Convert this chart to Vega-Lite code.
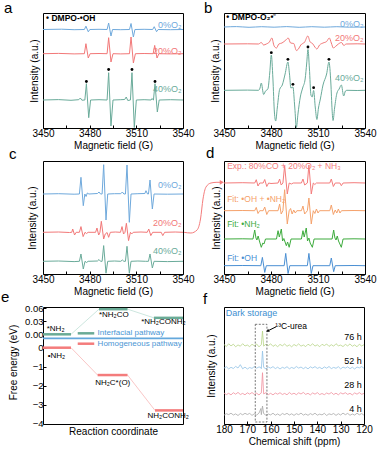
{
"$schema":"https://vega.github.io/schema/vega-lite/v6.json",
"background":"white",
"padding":{"left":0,"top":0,"right":0,"bottom":0},
"config":{
 "font":"Liberation Sans",
 "view":{"stroke":"#000","strokeWidth":1},
 "axis":{"domain":false,"grid":false,"tickColor":"#000","tickSize":-3,"labelColor":"#000","titleColor":"#000","labelFontSize":10,"titleFontSize":10,"titleFontWeight":"normal","labelPadding":3,"titlePadding":2,"labelFlush":false,"labelOverlap":false},
 "title":{"fontSize":15,"fontWeight":"normal","anchor":"start","frame":"group","offset":0,"baseline":"alphabetic","color":"#000"},
 "text":{"font":"Liberation Sans"}
},
"bounds":"flush",
"columns":2,
"spacing":{"row":33,"column":41},
"resolve":{"scale":{"color":"independent","x":"independent","y":"independent"}},
"concat":[
{
 "width":140,"height":115,
 "title":{"text":"a","dx":-39,"dy":7},
 "encoding":{
  "x":{"field":"x","type":"quantitative","scale":{"domain":[3450,3540],"nice":false,"zero":false},"axis":{"values":[3450,3465,3480,3495,3510,3525,3540],"labelExpr":"datum.value % 30 == 0 ? datum.label : ''","format":"d","title":"Magnetic field (G)"}},
  "y":{"field":"y","type":"quantitative","scale":{"domain":[0,115],"nice":false,"zero":false},"axis":{"labels":false,"ticks":false,"title":"Intensity (a.u.)","titlePadding":4}}
 },
 "layer":[
  {"data":{"values":[
{"s":"a0","x":3450,"y":98.5},{"s":"a0","x":3462,"y":98.8},{"s":"a0","x":3470,"y":98.3},{"s":"a0","x":3476.6,"y":98.5},{"s":"a0","x":3477.6,"y":101.8},{"s":"a0","x":3479.1,"y":96.2},{"s":"a0","x":3480.1,"y":98.5},{"s":"a0","x":3486,"y":98.7},{"s":"a0","x":3491.2,"y":98.5},{"s":"a0","x":3492.2,"y":105},{"s":"a0","x":3493.7,"y":92},{"s":"a0","x":3494.7,"y":98.5},{"s":"a0","x":3500,"y":98.3},{"s":"a0","x":3505.6,"y":98.5},{"s":"a0","x":3506.6,"y":104.5},{"s":"a0","x":3508.1,"y":91},{"s":"a0","x":3509.1,"y":98.5},{"s":"a0","x":3515,"y":98.7},{"s":"a0","x":3520.5,"y":98.5},{"s":"a0","x":3521.5,"y":101.3},{"s":"a0","x":3523,"y":96.3},{"s":"a0","x":3524,"y":98.5},{"s":"a0","x":3532,"y":98.3},{"s":"a0","x":3540,"y":98.5},
{"s":"a20","x":3450,"y":74.3},{"s":"a20","x":3460,"y":74.6},{"s":"a20","x":3470,"y":74.1},{"s":"a20","x":3476.6,"y":74.3},{"s":"a20","x":3477.6,"y":84.3},{"s":"a20","x":3479.1,"y":70},{"s":"a20","x":3480.3,"y":74.3},{"s":"a20","x":3486,"y":74.5},{"s":"a20","x":3491.2,"y":74.3},{"s":"a20","x":3492.2,"y":90.3},{"s":"a20","x":3493.7,"y":66},{"s":"a20","x":3495,"y":74.3},{"s":"a20","x":3500,"y":74.1},{"s":"a20","x":3505.6,"y":74.3},{"s":"a20","x":3506.6,"y":91},{"s":"a20","x":3508.1,"y":65},{"s":"a20","x":3509.4,"y":74.3},{"s":"a20","x":3515,"y":74.5},{"s":"a20","x":3520.8,"y":74.3},{"s":"a20","x":3521.8,"y":82.6},{"s":"a20","x":3523.3,"y":70},{"s":"a20","x":3524.5,"y":74.3},{"s":"a20","x":3532,"y":74.1},{"s":"a20","x":3540,"y":74.3},
{"s":"a40","x":3450,"y":28},{"s":"a40","x":3460,"y":28.4},{"s":"a40","x":3468,"y":27.7},{"s":"a40","x":3473,"y":28.3},{"s":"a40","x":3474,"y":30},{"s":"a40","x":3475,"y":27.8},{"s":"a40","x":3476.9,"y":28},{"s":"a40","x":3477.9,"y":44.3},{"s":"a40","x":3479.4,"y":10.3},{"s":"a40","x":3480.6,"y":28},{"s":"a40","x":3486,"y":28.3},{"s":"a40","x":3491.2,"y":28},{"s":"a40","x":3492.2,"y":55.3},{"s":"a40","x":3493.7,"y":2},{"s":"a40","x":3495,"y":28},{"s":"a40","x":3500,"y":28.3},{"s":"a40","x":3502.5,"y":28.5},{"s":"a40","x":3503.5,"y":31},{"s":"a40","x":3504.5,"y":27.5},{"s":"a40","x":3506.2,"y":28},{"s":"a40","x":3507.2,"y":55.3},{"s":"a40","x":3508.7,"y":0.5},{"s":"a40","x":3510,"y":28},{"s":"a40","x":3515,"y":28.3},{"s":"a40","x":3519.5,"y":28},{"s":"a40","x":3520,"y":29.5},{"s":"a40","x":3521,"y":28},{"s":"a40","x":3522,"y":44.3},{"s":"a40","x":3523.5,"y":16},{"s":"a40","x":3524.7,"y":28},{"s":"a40","x":3532,"y":28.3},{"s":"a40","x":3540,"y":28}
  ]},"mark":{"type":"line","strokeWidth":1},"encoding":{"color":{"field":"s","type":"nominal","scale":{"domain":["a0","a20","a40"],"range":["#6fa9dc","#f27878","#6aab9a"]},"legend":null}}},
  {"data":{"values":[{"x":3477.9,"y":46.5},{"x":3492.2,"y":58.5},{"x":3507.2,"y":58.5},{"x":3522,"y":46.5}]},"mark":{"type":"point","filled":true,"color":"#000","size":8,"opacity":1}},
  {"data":{"values":[{"s":"a0","t":"0%O₂","x":3539,"y":103},{"s":"a20","t":"20%O₂","x":3539,"y":77},{"s":"a40","t":"40%O₂","x":3539,"y":38.7}]},"mark":{"type":"text","align":"right","baseline":"middle","fontSize":9},"encoding":{"text":{"field":"t"},"color":{"field":"s","type":"nominal","scale":{"domain":["a0","a20","a40"],"range":["#6fa9dc","#f27878","#6aab9a"]},"legend":null}}},
  {"data":{"values":[{"t":"• DMPO-•OH","x":3452,"y":110}]},"mark":{"type":"text","align":"left","baseline":"middle","fontSize":8.5,"fontWeight":"bold","color":"#000"},"encoding":{"text":{"field":"t"}}}
 ]
},
{
 "width":141,"height":115,
 "title":{"text":"b","dx":-20,"dy":7},
 "encoding":{
  "x":{"field":"x","type":"quantitative","scale":{"domain":[3450,3540],"nice":false,"zero":false},"axis":{"values":[3450,3465,3480,3495,3510,3525,3540],"labelExpr":"datum.value % 30 == 0 ? datum.label : ''","format":"d","title":"Magnetic field (G)"}},
  "y":{"field":"y","type":"quantitative","scale":{"domain":[0,115],"nice":false,"zero":false},"axis":{"labels":false,"ticks":false,"title":"Intensity (a.u.)","titlePadding":4}}
 },
 "layer":[
  {"data":{"values":[
{"s":"b0","x":3450,"y":101},{"s":"b0","x":3458,"y":101.4},{"s":"b0","x":3466,"y":100.7},{"s":"b0","x":3474,"y":101.3},{"s":"b0","x":3482,"y":100.8},{"s":"b0","x":3490,"y":101.4},{"s":"b0","x":3498,"y":100.7},{"s":"b0","x":3506,"y":101.3},{"s":"b0","x":3514,"y":100.8},{"s":"b0","x":3522,"y":101.3},{"s":"b0","x":3530,"y":100.8},{"s":"b0","x":3540,"y":101},
{"s":"b20","x":3450,"y":84},{"s":"b20","x":3465,"y":84.2},{"s":"b20","x":3472,"y":84},{"s":"b20","x":3473.8,"y":85.5},{"s":"b20","x":3475.3,"y":83},{"s":"b20","x":3477,"y":84},{"s":"b20","x":3479,"y":86},{"s":"b20","x":3480.5,"y":90},{"s":"b20","x":3482,"y":82},{"s":"b20","x":3483.5,"y":80},{"s":"b20","x":3485,"y":84},{"s":"b20","x":3487,"y":85},{"s":"b20","x":3489.5,"y":88},{"s":"b20","x":3491,"y":90},{"s":"b20","x":3492.5,"y":85},{"s":"b20","x":3494.5,"y":84.5},{"s":"b20","x":3496.2,"y":77.5},{"s":"b20","x":3497.5,"y":79},{"s":"b20","x":3499,"y":83},{"s":"b20","x":3501.5,"y":86},{"s":"b20","x":3503.5,"y":92},{"s":"b20","x":3505,"y":86},{"s":"b20","x":3506.5,"y":84.5},{"s":"b20","x":3508,"y":81},{"s":"b20","x":3509.3,"y":79},{"s":"b20","x":3511,"y":83},{"s":"b20","x":3513.2,"y":85},{"s":"b20","x":3515.5,"y":86.5},{"s":"b20","x":3517.2,"y":90},{"s":"b20","x":3518.5,"y":85},{"s":"b20","x":3519.8,"y":80},{"s":"b20","x":3521.5,"y":82},{"s":"b20","x":3523,"y":84},{"s":"b20","x":3525,"y":85.5},{"s":"b20","x":3526.5,"y":82.5},{"s":"b20","x":3528,"y":84},{"s":"b20","x":3535,"y":84.2},{"s":"b20","x":3540,"y":84},
{"s":"b40","x":3450,"y":37.7},{"s":"b40","x":3465,"y":37.9},{"s":"b40","x":3472,"y":37.7},{"s":"b40","x":3473,"y":40},{"s":"b40","x":3473.8,"y":45},{"s":"b40","x":3475.3,"y":33.5},{"s":"b40","x":3476.5,"y":37},{"s":"b40","x":3478,"y":39},{"s":"b40","x":3479.2,"y":55},{"s":"b40","x":3480.2,"y":73},{"s":"b40","x":3481.2,"y":50},{"s":"b40","x":3482.2,"y":15},{"s":"b40","x":3483,"y":7},{"s":"b40","x":3484,"y":20},{"s":"b40","x":3485.5,"y":38.5},{"s":"b40","x":3487.2,"y":43},{"s":"b40","x":3489,"y":54},{"s":"b40","x":3490.8,"y":66},{"s":"b40","x":3491.8,"y":54},{"s":"b40","x":3492.7,"y":40},{"s":"b40","x":3494,"y":41},{"s":"b40","x":3495.2,"y":20},{"s":"b40","x":3496.2,"y":0.5},{"s":"b40","x":3497.2,"y":14},{"s":"b40","x":3498.7,"y":31},{"s":"b40","x":3500.2,"y":40},{"s":"b40","x":3501.8,"y":49},{"s":"b40","x":3502.8,"y":65},{"s":"b40","x":3503.6,"y":78.5},{"s":"b40","x":3504.5,"y":60},{"s":"b40","x":3505.5,"y":33},{"s":"b40","x":3506.3,"y":31},{"s":"b40","x":3507.2,"y":37.5},{"s":"b40","x":3508.3,"y":20},{"s":"b40","x":3509.3,"y":8.5},{"s":"b40","x":3510.3,"y":20},{"s":"b40","x":3511.5,"y":29},{"s":"b40","x":3513.2,"y":43},{"s":"b40","x":3515.5,"y":54},{"s":"b40","x":3517,"y":66},{"s":"b40","x":3518.2,"y":45},{"s":"b40","x":3519,"y":18},{"s":"b40","x":3519.6,"y":7.5},{"s":"b40","x":3520.6,"y":20},{"s":"b40","x":3522.1,"y":35},{"s":"b40","x":3523.5,"y":39},{"s":"b40","x":3524.9,"y":43},{"s":"b40","x":3526.4,"y":32},{"s":"b40","x":3527.5,"y":37},{"s":"b40","x":3528.5,"y":37.7},{"s":"b40","x":3535,"y":37.5},{"s":"b40","x":3540,"y":37.7}
  ]},"mark":{"type":"line","strokeWidth":1,"interpolate":"monotone"},"encoding":{"color":{"field":"s","type":"nominal","scale":{"domain":["b0","b20","b40"],"range":["#6fa9dc","#f27878","#6aab9a"]},"legend":null}}},
  {"data":{"values":[{"x":3480.2,"y":75.3},{"x":3490.8,"y":68.7},{"x":3494,"y":43.7},{"x":3503.6,"y":81},{"x":3507.2,"y":40.3},{"x":3517,"y":68.7}]},"mark":{"type":"point","filled":true,"color":"#000","size":8,"opacity":1}},
  {"data":{"values":[{"s":"b0","t":"0%O₂","x":3539,"y":104.3},{"s":"b20","t":"20%O₂","x":3539,"y":89.7},{"s":"b40","t":"40%O₂","x":3539,"y":49.7}]},"mark":{"type":"text","align":"right","baseline":"middle","fontSize":9},"encoding":{"text":{"field":"t"},"color":{"field":"s","type":"nominal","scale":{"domain":["b0","b20","b40"],"range":["#6fa9dc","#f27878","#6aab9a"]},"legend":null}}},
  {"data":{"values":[{"t":"• DMPO-O₂•⁻","x":3451.5,"y":111}]},"mark":{"type":"text","align":"left","baseline":"middle","fontSize":8.5,"fontWeight":"bold","color":"#000"},"encoding":{"text":{"field":"t"}}}
 ]
},
{
 "width":140,"height":113,
 "title":{"text":"c","dx":-34,"dy":5},
 "encoding":{
  "x":{"field":"x","type":"quantitative","scale":{"domain":[3450,3540],"nice":false,"zero":false},"axis":{"values":[3450,3465,3480,3495,3510,3525,3540],"labelExpr":"datum.value % 30 == 0 ? datum.label : ''","format":"d","title":"Magnetic field (G)"}},
  "y":{"field":"y","type":"quantitative","scale":{"domain":[0,113],"nice":false,"zero":false},"axis":{"labels":false,"ticks":false,"title":"Intensity (a.u.)","titlePadding":6}}
 },
 "layer":[
  {"data":{"values":[
{"s":"c0","x":3450,"y":80},{"s":"c0","x":3460,"y":80.3},{"s":"c0","x":3470,"y":79.8},{"s":"c0","x":3473.4,"y":80},{"s":"c0","x":3474.4,"y":96.7},{"s":"c0","x":3475.9,"y":68.3},{"s":"c0","x":3476.9,"y":80},{"s":"c0","x":3477.7,"y":77.5},{"s":"c0","x":3478.5,"y":81},{"s":"c0","x":3479.5,"y":80},{"s":"c0","x":3485,"y":80.5},{"s":"c0","x":3486,"y":82},{"s":"c0","x":3487,"y":80},{"s":"c0","x":3488,"y":80},{"s":"c0","x":3489,"y":109.3},{"s":"c0","x":3490.5,"y":54},{"s":"c0","x":3491.6,"y":80},{"s":"c0","x":3496,"y":80.3},{"s":"c0","x":3500,"y":80.3},{"s":"c0","x":3501,"y":82},{"s":"c0","x":3502,"y":80},{"s":"c0","x":3503,"y":80},{"s":"c0","x":3504,"y":109},{"s":"c0","x":3505.5,"y":51.7},{"s":"c0","x":3506.6,"y":80},{"s":"c0","x":3511,"y":80.3},{"s":"c0","x":3515.5,"y":80.5},{"s":"c0","x":3516.2,"y":83.3},{"s":"c0","x":3517.2,"y":80},{"s":"c0","x":3517.8,"y":80},{"s":"c0","x":3518.8,"y":94},{"s":"c0","x":3520.3,"y":65},{"s":"c0","x":3521.4,"y":80},{"s":"c0","x":3530,"y":79.8},{"s":"c0","x":3540,"y":80},
{"s":"c20","x":3450,"y":41.7},{"s":"c20","x":3460,"y":42},{"s":"c20","x":3467,"y":41.5},{"s":"c20","x":3468.5,"y":41.7},{"s":"c20","x":3469.1,"y":45},{"s":"c20","x":3470.3,"y":39},{"s":"c20","x":3471.3,"y":41.7},{"s":"c20","x":3473.4,"y":41.7},{"s":"c20","x":3474.4,"y":47.4},{"s":"c20","x":3475.8,"y":37.4},{"s":"c20","x":3477,"y":41.7},{"s":"c20","x":3478,"y":40.5},{"s":"c20","x":3479,"y":41.7},{"s":"c20","x":3483.8,"y":41.7},{"s":"c20","x":3484.7,"y":46},{"s":"c20","x":3485.8,"y":39},{"s":"c20","x":3486.6,"y":41.7},{"s":"c20","x":3487.5,"y":52.7},{"s":"c20","x":3489,"y":35},{"s":"c20","x":3490,"y":40},{"s":"c20","x":3491.2,"y":41.5},{"s":"c20","x":3492.2,"y":36.7},{"s":"c20","x":3493.3,"y":41.7},{"s":"c20","x":3496.5,"y":42},{"s":"c20","x":3499.8,"y":41.7},{"s":"c20","x":3500.8,"y":47.4},{"s":"c20","x":3501.8,"y":40},{"s":"c20","x":3502.7,"y":41.7},{"s":"c20","x":3503.6,"y":50.7},{"s":"c20","x":3505,"y":33.4},{"s":"c20","x":3506.2,"y":41.7},{"s":"c20","x":3507,"y":40},{"s":"c20","x":3508,"y":41.7},{"s":"c20","x":3513,"y":42},{"s":"c20","x":3517,"y":41.7},{"s":"c20","x":3518,"y":45},{"s":"c20","x":3519.3,"y":38.4},{"s":"c20","x":3520.5,"y":41.7},{"s":"c20","x":3526,"y":41.7},{"s":"c20","x":3527,"y":38.4},{"s":"c20","x":3528.2,"y":41.7},{"s":"c20","x":3535,"y":42},{"s":"c20","x":3540,"y":41.7},
{"s":"c40","x":3450,"y":12.7},{"s":"c40","x":3460,"y":13},{"s":"c40","x":3470,"y":12.4},{"s":"c40","x":3473.4,"y":12.7},{"s":"c40","x":3474.4,"y":20},{"s":"c40","x":3475.9,"y":5},{"s":"c40","x":3477,"y":12.7},{"s":"c40","x":3478,"y":11.5},{"s":"c40","x":3479,"y":12.7},{"s":"c40","x":3485,"y":13},{"s":"c40","x":3486,"y":14.5},{"s":"c40","x":3487,"y":12.7},{"s":"c40","x":3488,"y":12.7},{"s":"c40","x":3489,"y":28.4},{"s":"c40","x":3490.5,"y":0.8},{"s":"c40","x":3491.6,"y":12.7},{"s":"c40","x":3496,"y":13},{"s":"c40","x":3500,"y":12.7},{"s":"c40","x":3501,"y":14},{"s":"c40","x":3502,"y":12.7},{"s":"c40","x":3503,"y":12.7},{"s":"c40","x":3504,"y":27.7},{"s":"c40","x":3505.5,"y":0.8},{"s":"c40","x":3506.6,"y":12.7},{"s":"c40","x":3511,"y":13},{"s":"c40","x":3516,"y":12.7},{"s":"c40","x":3517.8,"y":12.7},{"s":"c40","x":3518.8,"y":20},{"s":"c40","x":3520.3,"y":6},{"s":"c40","x":3521.4,"y":12.7},{"s":"c40","x":3530,"y":12.4},{"s":"c40","x":3540,"y":12.7}
  ]},"mark":{"type":"line","strokeWidth":1},"encoding":{"color":{"field":"s","type":"nominal","scale":{"domain":["c0","c20","c40"],"range":["#6fa9dc","#f27878","#6aab9a"]},"legend":null}}},
  {"data":{"values":[{"s":"c0","t":"0%O₂","x":3539,"y":89.3},{"s":"c20","t":"20%O₂","x":3539,"y":51},{"s":"c40","t":"40%O₂","x":3539,"y":23.3}]},"mark":{"type":"text","align":"right","baseline":"middle","fontSize":9},"encoding":{"text":{"field":"t"},"color":{"field":"s","type":"nominal","scale":{"domain":["c0","c20","c40"],"range":["#6fa9dc","#f27878","#6aab9a"]},"legend":null}}}
 ]
},
{
 "width":141,"height":113,
 "title":{"text":"d","dx":-18,"dy":4},
 "encoding":{
  "x":{"field":"x","type":"quantitative","scale":{"domain":[3450,3540],"nice":false,"zero":false},"axis":{"values":[3450,3465,3480,3495,3510,3525,3540],"labelExpr":"datum.value % 30 == 0 ? datum.label : ''","format":"d","title":"Magnetic field (G)"}},
  "y":{"field":"y","type":"quantitative","scale":{"domain":[0,113],"nice":false,"zero":false},"axis":{"labels":false,"ticks":false,"title":"Intensity (a.u.)","titlePadding":3}}
 },
 "layer":[
  {"data":{"values":[
{"s":"dE","x":3450,"y":91},{"s":"dE","x":3462,"y":91.3},{"s":"dE","x":3469.6,"y":91},{"s":"dE","x":3470.6,"y":94.3},{"s":"dE","x":3471.7,"y":88},{"s":"dE","x":3472.8,"y":91},{"s":"dE","x":3475,"y":91},{"s":"dE","x":3476,"y":94.5},{"s":"dE","x":3477.3,"y":87.5},{"s":"dE","x":3478.5,"y":91},{"s":"dE","x":3480,"y":90.5},{"s":"dE","x":3484.5,"y":91},{"s":"dE","x":3485.5,"y":95},{"s":"dE","x":3486.5,"y":89},{"s":"dE","x":3487.6,"y":91},{"s":"dE","x":3488.7,"y":108.3},{"s":"dE","x":3490.4,"y":80},{"s":"dE","x":3491.6,"y":91},{"s":"dE","x":3493,"y":90},{"s":"dE","x":3494.2,"y":91},{"s":"dE","x":3499.4,"y":91},{"s":"dE","x":3500.4,"y":95},{"s":"dE","x":3501.5,"y":89},{"s":"dE","x":3503.2,"y":91},{"s":"dE","x":3504.2,"y":109},{"s":"dE","x":3505.7,"y":80},{"s":"dE","x":3507,"y":91},{"s":"dE","x":3508,"y":89.5},{"s":"dE","x":3509,"y":91},{"s":"dE","x":3517.5,"y":91},{"s":"dE","x":3518.5,"y":95},{"s":"dE","x":3519.8,"y":87.5},{"s":"dE","x":3521,"y":91},{"s":"dE","x":3524,"y":91},{"s":"dE","x":3524.9,"y":88.3},{"s":"dE","x":3526,"y":91},{"s":"dE","x":3533,"y":91.3},{"s":"dE","x":3540,"y":91},
{"s":"dF","x":3450,"y":63.3},{"s":"dF","x":3462,"y":63.5},{"s":"dF","x":3469.6,"y":63.3},{"s":"dF","x":3470.6,"y":66.6},{"s":"dF","x":3471.7,"y":60.5},{"s":"dF","x":3472.8,"y":63.3},{"s":"dF","x":3475,"y":63.3},{"s":"dF","x":3476,"y":67},{"s":"dF","x":3477.3,"y":59.5},{"s":"dF","x":3478.5,"y":63.3},{"s":"dF","x":3484.5,"y":63.3},{"s":"dF","x":3485.5,"y":70},{"s":"dF","x":3486.5,"y":60},{"s":"dF","x":3487.6,"y":63.3},{"s":"dF","x":3488.7,"y":84.3},{"s":"dF","x":3490.4,"y":50},{"s":"dF","x":3491.6,"y":63.3},{"s":"dF","x":3492.5,"y":65.5},{"s":"dF","x":3493.5,"y":60},{"s":"dF","x":3494.5,"y":64},{"s":"dF","x":3495.5,"y":61},{"s":"dF","x":3496.5,"y":63.3},{"s":"dF","x":3499.4,"y":63.3},{"s":"dF","x":3500.4,"y":68},{"s":"dF","x":3501.5,"y":60},{"s":"dF","x":3503.2,"y":63.3},{"s":"dF","x":3504.2,"y":76},{"s":"dF","x":3505.7,"y":50},{"s":"dF","x":3507,"y":63.3},{"s":"dF","x":3508,"y":60.5},{"s":"dF","x":3509,"y":65},{"s":"dF","x":3510,"y":61},{"s":"dF","x":3511,"y":63.3},{"s":"dF","x":3517.5,"y":63.3},{"s":"dF","x":3518.5,"y":69},{"s":"dF","x":3519.8,"y":59.5},{"s":"dF","x":3521,"y":64},{"s":"dF","x":3522,"y":61},{"s":"dF","x":3523,"y":65},{"s":"dF","x":3524,"y":61},{"s":"dF","x":3525,"y":63.3},{"s":"dF","x":3533,"y":63.5},{"s":"dF","x":3540,"y":63.3},
{"s":"dN","x":3450,"y":35},{"s":"dN","x":3462,"y":35.2},{"s":"dN","x":3468.5,"y":35},{"s":"dN","x":3469.6,"y":44},{"s":"dN","x":3470.4,"y":36},{"s":"dN","x":3471,"y":34},{"s":"dN","x":3471.8,"y":38},{"s":"dN","x":3472.6,"y":33},{"s":"dN","x":3473.8,"y":26.7},{"s":"dN","x":3474.8,"y":31},{"s":"dN","x":3475.5,"y":30},{"s":"dN","x":3476.5,"y":35},{"s":"dN","x":3483.5,"y":35},{"s":"dN","x":3484.5,"y":43.3},{"s":"dN","x":3485.3,"y":37},{"s":"dN","x":3486.6,"y":45},{"s":"dN","x":3487.4,"y":33},{"s":"dN","x":3488.2,"y":35.5},{"s":"dN","x":3489.8,"y":28.3},{"s":"dN","x":3490.6,"y":32},{"s":"dN","x":3491.6,"y":26.7},{"s":"dN","x":3492.8,"y":35},{"s":"dN","x":3499.4,"y":35},{"s":"dN","x":3500.4,"y":43.3},{"s":"dN","x":3501.2,"y":37},{"s":"dN","x":3502.5,"y":46},{"s":"dN","x":3503.3,"y":33},{"s":"dN","x":3504.2,"y":36},{"s":"dN","x":3505,"y":31},{"s":"dN","x":3506.4,"y":26.7},{"s":"dN","x":3507.5,"y":35},{"s":"dN","x":3519,"y":35},{"s":"dN","x":3520,"y":44},{"s":"dN","x":3520.8,"y":36},{"s":"dN","x":3521.5,"y":34},{"s":"dN","x":3522.3,"y":38},{"s":"dN","x":3523.1,"y":33},{"s":"dN","x":3524.9,"y":26.7},{"s":"dN","x":3526,"y":35},{"s":"dN","x":3533,"y":35.2},{"s":"dN","x":3540,"y":35},
{"s":"dO","x":3450,"y":8.3},{"s":"dO","x":3462,"y":8.5},{"s":"dO","x":3473.5,"y":8.3},{"s":"dO","x":3474.5,"y":16.6},{"s":"dO","x":3476,"y":1.6},{"s":"dO","x":3477,"y":8.3},{"s":"dO","x":3488.4,"y":8.3},{"s":"dO","x":3489.4,"y":20.6},{"s":"dO","x":3490.9,"y":0.5},{"s":"dO","x":3492,"y":8.3},{"s":"dO","x":3503.2,"y":8.3},{"s":"dO","x":3504.2,"y":20.6},{"s":"dO","x":3505.7,"y":0.5},{"s":"dO","x":3506.8,"y":8.3},{"s":"dO","x":3517.5,"y":8.3},{"s":"dO","x":3518.5,"y":16},{"s":"dO","x":3520,"y":2.3},{"s":"dO","x":3521,"y":8.3},{"s":"dO","x":3533,"y":8.5},{"s":"dO","x":3540,"y":8.3}
  ]},"mark":{"type":"line","strokeWidth":1},"encoding":{"color":{"field":"s","type":"nominal","scale":{"domain":["dE","dF","dN","dO"],"range":["#f47c7c","#f5a26c","#3dab3d","#4a8fd3"]},"legend":null}}},
  {"data":{"values":[{"x":3424.5,"y":41.7},{"x":3428.9,"y":41},{"x":3432.8,"y":44},{"x":3435,"y":55},{"x":3436.6,"y":75},{"x":3438.5,"y":87},{"x":3441.7,"y":91},{"x":3445.5,"y":91.7},{"x":3448.1,"y":91.7}]},"mark":{"type":"line","strokeWidth":1,"color":"#f47c7c","interpolate":"monotone"}},
  {"data":{"values":[{"x":3448.6,"y":91.7}]},"mark":{"type":"point","shape":"triangle-right","filled":true,"size":22,"color":"#f47c7c","opacity":1}},
  {"data":{"values":[{"s":"dE","t":"Exp.: 80%CO + 20%O₂ + NH₃","x":3452,"y":108},{"s":"dF","t":"Fit: •OH + •NH₂","x":3452,"y":75.5},{"s":"dN","t":"Fit: •NH₂","x":3452,"y":50.5},{"s":"dO","t":"Fit: •OH","x":3452,"y":16}]},"mark":{"type":"text","align":"left","baseline":"middle","fontSize":8.5},"encoding":{"text":{"field":"t"},"color":{"field":"s","type":"nominal","scale":{"domain":["dE","dF","dN","dO"],"range":["#f47c7c","#f5a26c","#3dab3d","#4a8fd3"]},"legend":null}}}
 ]
},
{
 "width":140,"height":117,
 "title":{"text":"e","dx":-42,"dy":6},
 "encoding":{
  "x":{"field":"x","type":"quantitative","scale":{"domain":[0,5],"nice":false,"zero":false},"axis":{"labels":false,"ticks":false,"title":"Reaction coordinate","titlePadding":2}}
 },
 "resolve":{"scale":{"y":"independent"},"axis":{"y":"independent"}},
 "layer":[
  {
   "encoding":{"y":{"field":"y","type":"quantitative","scale":{"domain":[-0.0085,0.063],"range":[31,0],"nice":false,"zero":false},"axis":{"orient":"left","values":[0,0.03,0.06],"format":".2f","title":null,"labelFontSize":9.5}}},
   "layer":[
    {"data":{"values":[{"x":1,"x2":2,"y":0,"y2":0.058},{"x":3.02,"x2":3.96,"y":0.058,"y2":0.038}]},"mark":{"type":"rule","color":"#bfe0d5","strokeWidth":0.8},"encoding":{"x2":{"field":"x2"},"y2":{"field":"y2"}}},
    {"data":{"values":[{"x":0,"x2":1,"y":0},{"x":2,"x2":3.02,"y":0.058},{"x":3.96,"x2":5,"y":0.038},{"x":1.24,"x2":1.83,"y":0.0023}]},"mark":{"type":"rule","color":"#6aab96","strokeWidth":2.5},"encoding":{"x2":{"field":"x2"}}},
    {"data":{"values":[{"t":"*NH₂","x":0.45,"y":0.013},{"t":"*NH₂CO","x":2.53,"y":0.0445},{"t":"*NH₂CONH₂","x":4.3,"y":0.028}]},"mark":{"type":"text","fontSize":8,"color":"#000","baseline":"middle"},"encoding":{"text":{"field":"t"}}},
    {"data":{"values":[{"t":"Interfacial pathway","x":1.95,"y":0.0023}]},"mark":{"type":"text","fontSize":8,"color":"#4a96d4","align":"left","baseline":"middle"},"encoding":{"text":{"field":"t"}}}
   ]
  },
  {
   "encoding":{"y":{"field":"y","type":"quantitative","scale":{"domain":[-4.016,0.51],"range":[117,31],"nice":false,"zero":false},"axis":{"orient":"left","values":[-4,-3,-2,-1,0],"format":"d","title":"Free energy (eV)","titleX":-25,"titleY":55,"labelFontSize":9.5}}},
   "layer":[
    {"data":{"values":[{"x":0,"x2":5,"y":0.49}]},"mark":{"type":"rule","color":"#64a8dc","strokeWidth":1.6},"encoding":{"x2":{"field":"x2"}}},
    {"data":{"values":[{"x":1,"x2":1.95,"y":0,"y2":-1.44},{"x":3.02,"x2":4,"y":-1.44,"y2":-3.3}]},"mark":{"type":"rule","color":"#f7b8b8","strokeWidth":0.8},"encoding":{"x2":{"field":"x2"},"y2":{"field":"y2"}}},
    {"data":{"values":[{"x":0,"x2":1,"y":0},{"x":1.95,"x2":3.02,"y":-1.44},{"x":4,"x2":5,"y":-3.3},{"x":1.24,"x2":1.83,"y":0.21}]},"mark":{"type":"rule","color":"#f47c7c","strokeWidth":2.5},"encoding":{"x2":{"field":"x2"}}},
    {"data":{"values":[{"t":"•NH₂","x":0.48,"y":-0.44},{"t":"NH₂C*(O)","x":2.49,"y":-1.84},{"t":"NH₂CONH₂","x":4.47,"y":-3.6}]},"mark":{"type":"text","fontSize":8,"color":"#000","baseline":"middle"},"encoding":{"text":{"field":"t"}}},
    {"data":{"values":[{"t":"Homogeneous pathway","x":1.95,"y":0.21}]},"mark":{"type":"text","fontSize":8,"color":"#4a96d4","align":"left","baseline":"middle"},"encoding":{"text":{"field":"t"}}}
   ]
  }
 ]
},
{
 "width":140,"height":117,
 "title":{"text":"f","dx":-21,"dy":4},
 "encoding":{
  "x":{"field":"x","type":"quantitative","scale":{"domain":[180,120],"nice":false,"zero":false},"axis":{"values":[180,170,160,150,140,130,120],"format":"d","title":"Chemical shift (ppm)"}},
  "y":{"field":"y","type":"quantitative","scale":{"domain":[0,117],"nice":false,"zero":false},"axis":{"labels":false,"ticks":false,"title":"Intensity (a.u.)","titlePadding":8}}
 },
 "layer":[
  {"data":{"values":[
{"x":180,"h76":79.5,"h52":55.8,"h28":31.0,"h4":8.8},{"x":179,"h76":77.5,"h52":57.3,"h28":29.4,"h4":10.3},{"x":178,"h76":80.2,"h52":55.1,"h28":30.7,"h4":9.4},{"x":177,"h76":78.1,"h52":56.7,"h28":29.1,"h4":10.8},{"x":176,"h76":79.8,"h52":55.5,"h28":31.3,"h4":9.0},{"x":175,"h76":77.2,"h52":57.6,"h28":29.8,"h4":10.1},{"x":174,"h76":79.1,"h52":56.0,"h28":31.6,"h4":8.5},{"x":173,"h76":77.8,"h52":59.3,"h28":29.5,"h4":10.5},{"x":172,"h76":80.3,"h52":55.2,"h28":30.6,"h4":9.2},{"x":171,"h76":78.0,"h52":56.9,"h28":29.2,"h4":10.7},
{"x":170,"h76":79.0,"h52":55.0,"h28":31.2,"h4":9.5},{"x":169,"h76":77.4,"h52":56.5,"h28":29.9,"h4":10.6},{"x":168,"h76":79.7,"h52":55.6,"h28":31.5,"h4":8.6},{"x":167,"h76":78.3,"h52":57.5,"h28":29.6,"h4":10.2},{"x":166,"h76":80.0,"h52":55.8,"h28":30.8,"h4":8.9},{"x":165,"h76":77.1,"h52":57.1,"h28":29.0,"h4":10.9},{"x":164.2,"h76":79.0,"h52":56.5,"h28":31.0,"h4":15.5},{"x":164,"h76":79.3,"h52":55.3,"h28":31.1,"h4":9.3},{"x":163.5,"h76":93,"h52":73,"h28":51.3,"h4":18},{"x":163,"h76":77.9,"h52":56.6,"h28":30.1,"h4":10.4},{"x":162,"h76":79.9,"h52":55.1,"h28":31.4,"h4":8.7},{"x":161,"h76":78.4,"h52":57.0,"h28":29.4,"h4":10.0},
{"x":160,"h76":80.2,"h52":55.9,"h28":30.7,"h4":9.1},{"x":159,"h76":77.6,"h52":57.4,"h28":29.1,"h4":10.8},{"x":158,"h76":79.2,"h52":55.4,"h28":31.0,"h4":8.8},{"x":157,"h76":77.3,"h52":56.8,"h28":29.8,"h4":10.1},{"x":156,"h76":79.6,"h52":55.0,"h28":31.3,"h4":8.5},{"x":155,"h76":78.2,"h52":56.7,"h28":29.5,"h4":10.5},{"x":154,"h76":80.0,"h52":55.7,"h28":30.6,"h4":9.4},{"x":153,"h76":77.7,"h52":57.3,"h28":29.2,"h4":10.7},{"x":152,"h76":79.1,"h52":55.2,"h28":31.5,"h4":9.0},{"x":151,"h76":77.2,"h52":56.6,"h28":29.7,"h4":10.2},
{"x":150,"h76":79.5,"h52":55.5,"h28":30.8,"h4":8.6},{"x":149,"h76":78.1,"h52":57.5,"h28":29.3,"h4":10.3},{"x":148,"h76":80.1,"h52":55.9,"h28":31.2,"h4":9.3},{"x":147,"h76":77.8,"h52":57.0,"h28":30.0,"h4":10.9},{"x":146,"h76":79.0,"h52":55.3,"h28":31.6,"h4":8.9},{"x":145,"h76":77.4,"h52":56.8,"h28":29.6,"h4":10.0},{"x":144,"h76":79.8,"h52":55.1,"h28":30.7,"h4":8.7},{"x":143,"h76":78.3,"h52":57.2,"h28":29.1,"h4":10.4},{"x":142,"h76":80.2,"h52":56.0,"h28":31.1,"h4":9.2},{"x":141,"h76":77.9,"h52":57.4,"h28":29.8,"h4":10.8},
{"x":140,"h76":79.2,"h52":55.6,"h28":31.4,"h4":8.8},{"x":139,"h76":77.3,"h52":56.7,"h28":29.4,"h4":9.9},{"x":138,"h76":79.7,"h52":55.2,"h28":30.5,"h4":9.1},{"x":137,"h76":78.4,"h52":57.1,"h28":29.3,"h4":10.7},{"x":136,"h76":80.0,"h52":55.8,"h28":31.0,"h4":8.5},{"x":135,"h76":77.6,"h52":57.5,"h28":29.9,"h4":10.2},{"x":134,"h76":79.3,"h52":55.4,"h28":31.5,"h4":9.4},{"x":133,"h76":77.8,"h52":56.6,"h28":29.5,"h4":10.5},{"x":132,"h76":80.3,"h52":55.7,"h28":30.8,"h4":8.6},{"x":131,"h76":78.2,"h52":57.3,"h28":29.2,"h4":10.3},
{"x":130,"h76":78.9,"h52":55.1,"h28":31.2,"h4":9.0},{"x":129,"h76":77.4,"h52":56.9,"h28":30.0,"h4":10.9},{"x":128,"h76":79.6,"h52":55.9,"h28":31.3,"h4":9.3},{"x":127,"h76":78.1,"h52":57.2,"h28":29.6,"h4":10.6},{"x":126,"h76":80.1,"h52":55.3,"h28":30.7,"h4":8.7},{"x":125,"h76":77.7,"h52":56.8,"h28":29.1,"h4":10.0},{"x":124,"h76":79.1,"h52":55.0,"h28":31.1,"h4":8.9},{"x":123,"h76":77.2,"h52":57.0,"h28":29.8,"h4":10.8},{"x":122,"h76":79.8,"h52":56.1,"h28":31.4,"h4":9.2},{"x":121,"h76":78.0,"h52":57.4,"h28":29.7,"h4":10.4},{"x":120,"h76":79.3,"h52":55.7,"h28":30.6,"h4":8.8}
  ]},"transform":[{"fold":["h76","h52","h28","h4"],"as":["s","y"]}],"mark":{"type":"line","strokeWidth":0.8},"encoding":{"color":{"field":"s","type":"nominal","scale":{"domain":["h76","h52","h28","h4"],"range":["#b7d488","#93c3e6","#f0909e","#aaaaaa"]},"legend":null}}},
  {"data":{"values":[{"x":166.6,"x2":161.6,"y":2,"y2":99.7}]},"mark":{"type":"rect","fill":"#fff","fillOpacity":0,"stroke":"#555","strokeWidth":0.8,"strokeDash":[2,1.5]},"encoding":{"x2":{"field":"x2"},"y2":{"field":"y2"}}},
  {"data":{"values":[{"x":157.6,"x2":160.8,"y":97.3,"y2":93.6}]},"mark":{"type":"rule","color":"#000","strokeWidth":1},"encoding":{"x2":{"field":"x2"},"y2":{"field":"y2"}}},
  {"data":{"values":[{"x":161.1,"y":93.2}]},"mark":{"type":"point","shape":"triangle","angle":238,"filled":true,"size":12,"color":"#000","opacity":1}},
  {"data":{"values":[{"t":"¹³C-urea","x":158,"y":98}]},"mark":{"type":"text","fontSize":8.5,"color":"#000","align":"left","baseline":"middle"},"encoding":{"text":{"field":"t"}}},
  {"data":{"values":[{"t":"Dark storage","x":179.3,"y":111.3}]},"mark":{"type":"text","fontSize":9,"color":"#3d8fd1","align":"left","baseline":"middle"},"encoding":{"text":{"field":"t"}}},
  {"data":{"values":[{"t":"76 h","x":121,"y":87.3},{"t":"52 h","x":121,"y":63},{"t":"28 h","x":121,"y":38.7},{"t":"4 h","x":121,"y":14.7}]},"mark":{"type":"text","fontSize":9,"color":"#000","align":"right","baseline":"middle"},"encoding":{"text":{"field":"t"}}}
 ]
}
]
}
